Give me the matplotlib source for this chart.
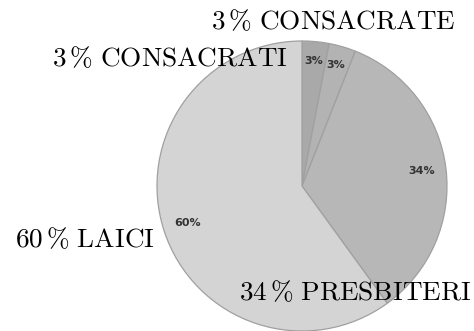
import matplotlib
matplotlib.use("Agg")
import matplotlib.pyplot as plt

# dati
categorie = ["CONSACRATI", "CONSACRATE", "PRESBITERI", "LAICI"]
valori = [3, 3, 34, 60]
colori = ["#a9a9a9", "#b3b3b3", "#b7b7b7", "#d4d4d4"]

plt.rcParams['mathtext.fontset'] = 'cm'

fig = plt.figure(figsize=(4.74, 3.31), dpi=100)
ax = fig.add_axes([0, 0, 1, 1])

wedges, testi, autotesti = ax.pie(
    valori, colors=colori, startangle=90, counterclock=False,
    center=(302, 145), radius=145, frame=True,
    autopct=lambda p: f"{p:.0f}%", pctdistance=0.83,
    wedgeprops=dict(edgecolor="#a0a0a0", linewidth=0.9),
    textprops=dict(fontsize=8, fontweight="bold", color="#333333"),
)
# le due etichette piccole stanno piu' in alto
for t in autotesti[:2]:
    x, y = t.get_position()
    t.set_position((x, y + 5))

ax.set_xlim(0, 474)
ax.set_ylim(0, 331)
ax.set_aspect("equal")
ax.axis("off")

# etichette esterne (coordinate in pixel dall'alto)
pos = {
    "CONSACRATE": (455, 22),
    "CONSACRATI": (288, 59),
    "LAICI": (155, 240),
    "PRESBITERI": (471, 293),
}
for cat, v in zip(categorie, valori):
    x, y = pos[cat]
    ax.text(x, 331 - y, r"$\mathrm{" + str(v) + r"\,\%\ " + cat + "}$",
            fontsize=19.6, ha="right", va="center", color="black")

fig.savefig("out.png", dpi=100)
